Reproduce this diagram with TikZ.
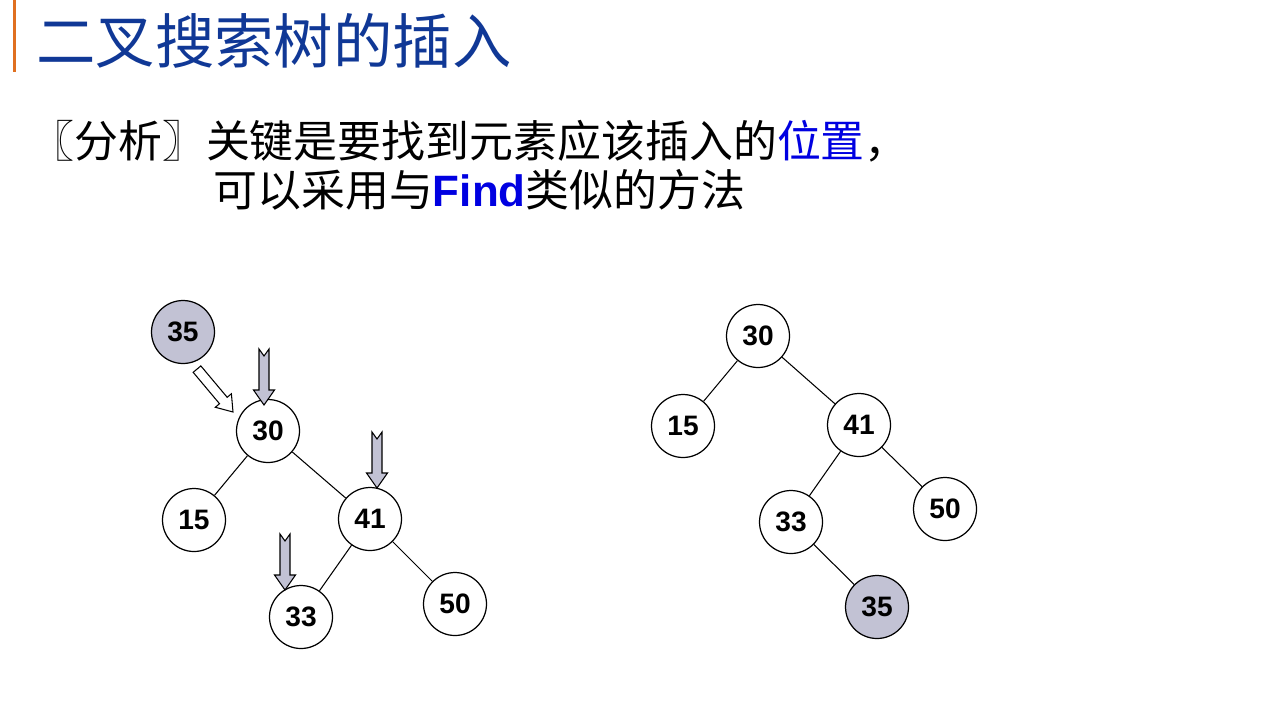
\documentclass[tikz,border=0pt]{standalone}
\usepackage{fontspec}
\setmainfont{Liberation Sans}
\newfontfamily\cjk{Noto Sans CJK SC}
\usetikzlibrary{positioning}
\definecolor{titleblue}{RGB}{16,56,150}
\definecolor{barorange}{RGB}{224,112,32}
\definecolor{keyblue}{RGB}{0,0,225}
\definecolor{markgray}{RGB}{194,194,212}
\tikzset{
  %% ---- tree nodes ----
  key/.style    = {circle, draw=black, line width=0.7pt, fill=white,
                   minimum size=1.26cm, inner sep=0pt,
                   font=\fontsize{16}{18}\selectfont\bfseries},
  newkey/.style = {key, fill=markgray},
  %% ---- lines ----
  edge/.style   = {line width=0.6pt, color=black},
  markarrow/.style  = {draw=black, line width=0.6pt, fill=markgray},
  hollowarrow/.style= {draw=black, line width=0.6pt, fill=white},
}
% block arrow: #1 style, #2 tip, #3 rotation, #4 notch depth
\newcommand{\blockarrow}[4]{%
  \begin{scope}[shift={(#2)}, rotate=#3]
    \draw[#1] (0,0) -- (-10.5,-15) -- (-5,-15) -- (-5,-56) -- (0,-56+#4)
      -- (5,-56) -- (5,-15) -- (10.5,-15) -- cycle;
  \end{scope}}

\begin{document}
\begin{tikzpicture}[x=0.02cm, y=-0.02cm]

  \useasboundingbox (0,0) rectangle (1273,727);
  \fill[barorange] (13,0) rectangle (16,72);

  %% ---- texts ----
  \node[anchor=base west, inner sep=0pt, text=titleblue,
        font=\cjk\fontsize{33.8}{40}\selectfont] (title) at (36,63)
    {二叉搜索树的插入};
  \node[anchor=base west, inner sep=0pt,
        font=\cjk\fontsize{25}{30}\selectfont] (line1) at (30,157)
    {〖分析〗关键是要找到元素应该插入的{\color{keyblue}位置}，};
  \node[anchor=base west, inner sep=0pt,
        font=\cjk\fontsize{25}{30}\selectfont] (line2) at (213,206)
    {可以采用与{\rmfamily\bfseries\color{keyblue}Find}类似的方法};

  %% ---- left tree: searching ----
  \node[newkey] (l35) at (183,332) {35};
  \node[key] (l30) at (268,431) {30};
  \node[key] (l15) at (194,520) {15};
  \node[key] (l41) at (370,519) {41};
  \node[key] (l33) at (301,617) {33};
  \node[key] (l50) at (455,604) {50};
  \draw[edge] (l30) -- (l15);
  \draw[edge] (l30) -- (l41);
  \draw[edge] (l41) -- (l33);
  \draw[edge] (l41) -- (l50);

  \blockarrow{hollowarrow}{233,412}{40}{0}
  \blockarrow{markarrow}{264,405}{0}{7}
  \blockarrow{markarrow}{377,488}{0}{7}
  \blockarrow{markarrow}{285,590}{0}{7}

  %% ---- right tree: after insertion ----
  \node[key] (r30) at (758,336) {30};
  \node[key] (r15) at (683,426) {15};
  \node[key] (r41) at (859,425) {41};
  \node[key] (r33) at (791,522) {33};
  \node[key] (r50) at (945,509) {50};
  \node[newkey] (r35) at (877,607) {35};
  \draw[edge] (r30) -- (r15);
  \draw[edge] (r30) -- (r41);
  \draw[edge] (r41) -- (r33);
  \draw[edge] (r41) -- (r50);
  \draw[edge] (r33) -- (r35);

\end{tikzpicture}
\end{document}
